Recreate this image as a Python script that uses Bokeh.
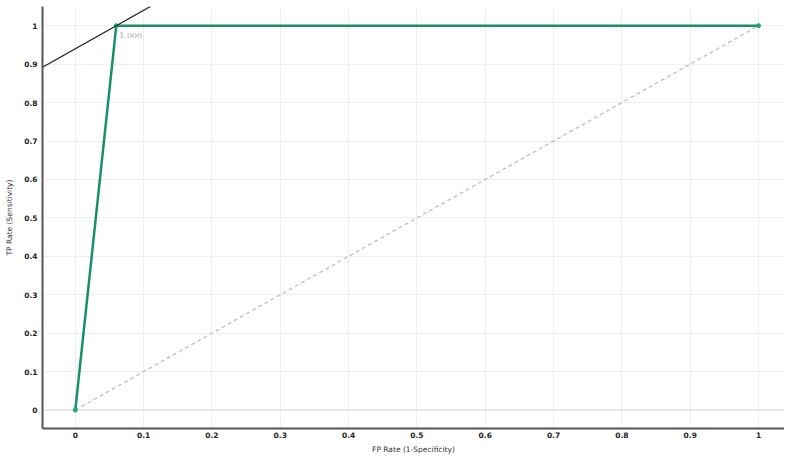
from bokeh.plotting import figure
from bokeh.models import Range1d, FixedTicker, Label
from bokeh.embed import file_html
from bokeh.resources import INLINE

# ROC curve data
fpr = [0.0, 0.06, 1.0]
tpr = [0.0, 1.0, 1.0]
# chance diagonal
diag_x = [0.0, 1.0]
diag_y = [0.0, 1.0]
# tangent line through optimal cut-off point (slope 1)
tan_x = [-0.048, 0.11]
tan_y = [0.892, 1.05]
cutoff_label = "1.000"
ticks = [0, 0.1, 0.2, 0.3, 0.4, 0.5, 0.6, 0.7, 0.8, 0.9, 1]
tick_labels = {t: ("0" if t == 0 else ("1" if t == 1 else f"{t:.1f}")) for t in ticks}

p = figure(width=784, height=456, output_backend="svg", toolbar_location=None,
           x_range=Range1d(-0.048, 1.038), y_range=Range1d(-0.048, 1.05),
           min_border_left=42, min_border_right=0, min_border_top=6, min_border_bottom=25)
p.outline_line_color = None
p.background_fill_color = "white"

for ax, lab in ((p.xaxis, "FP Rate (1-Specificity)"), (p.yaxis, "TP Rate (Sensitivity)")):
    ax.ticker = FixedTicker(ticks=ticks)
    ax.major_label_overrides = tick_labels
    ax.axis_label = lab
    ax.axis_label_text_font = "DejaVu Sans"
    ax.axis_label_text_font_size = "7.5px"
    ax.axis_label_text_font_style = "normal"
    ax.axis_label_text_color = "#333333"
    ax.major_label_text_font = "DejaVu Sans"
    ax.major_label_text_font_size = "7.5px"
    ax.major_label_text_font_style = "bold"
    ax.major_label_text_color = "#222222"
    ax.major_tick_line_color = None
    ax.minor_tick_line_color = None
    ax.major_tick_out = 0
    ax.major_tick_in = 0
    ax.minor_tick_out = 0
    ax.minor_tick_in = 0
    ax.axis_line_color = "#555555"
    ax.axis_line_width = 2

p.xaxis.major_label_standoff = 3
p.xaxis.axis_label_standoff = 4
p.yaxis.major_label_standoff = 5
p.yaxis.axis_label_standoff = 7

p.xgrid.ticker = FixedTicker(ticks=ticks)
p.ygrid.ticker = FixedTicker(ticks=ticks)
p.grid.grid_line_color = "#eeeeee"
p.grid.grid_line_width = 1

# thicker zero line
p.line([-0.048, 1.038], [0, 0], line_color="#e8e8e8", line_width=2)

p.line(diag_x, diag_y, line_color="#bbbbbb", line_width=1.2, line_dash="4 3")
p.line(fpr, tpr, line_color="#178f6a", line_width=2.5)
p.scatter(fpr, tpr, size=4, color="#1aa57a")
p.line(tan_x, tan_y, line_color="#222222", line_width=1.3)

p.add_layout(Label(x=fpr[1], y=tpr[1], text=cutoff_label, x_offset=3, y_offset=-12,
                   text_font="DejaVu Serif", text_font_size="8px", text_color="#aaaaaa"))

open("out.html", "w").write(file_html(p, INLINE))
